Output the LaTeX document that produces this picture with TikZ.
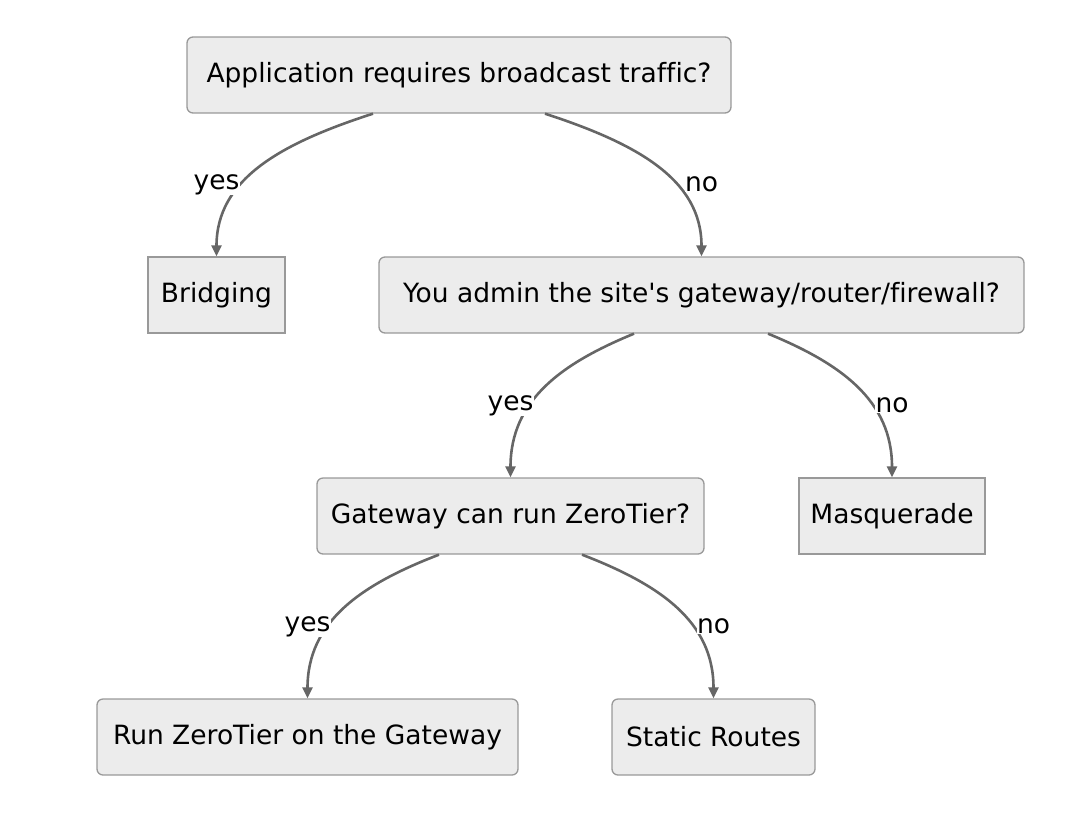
\documentclass[tikz,border=0pt]{standalone}
\usepackage{fontspec}
\setmainfont{DejaVu Sans}[Ligatures={TeXOff,NoCommon}]
\usetikzlibrary{arrows.meta}
\definecolor{boxfill}{HTML}{ECECEC}
\definecolor{boxline}{HTML}{999999}
\definecolor{edgecol}{HTML}{666666}
\tikzset{
  box/.style={draw=boxline, fill=boxfill, line width=1.3pt, minimum height=76pt, inner sep=0pt, font=\fontsize{26.5}{30}\selectfont},
  rbox/.style={box, rounded corners=6pt},
  edge/.style={draw=edgecol, line width=2.6pt, -{Triangle[length=11pt,width=10pt]}},
  lbl/.style={fill=white, inner sep=0.5pt, font=\fontsize{26.5}{30}\selectfont}
}
\begin{document}
\begin{tikzpicture}[x=1pt,y=-1pt]
\useasboundingbox (0,0) rectangle (1073,831);
\node[rbox, minimum width=544pt] (A) at (459,75) {Application requires broadcast traffic?};
\node[box, minimum width=137pt] (Br) at (216.5,295) {Bridging};
\node[rbox, minimum width=645pt] (B) at (701.5,295) {You admin the site's gateway/router/firewall?};
\node[rbox, minimum width=387pt] (C) at (510.5,516) {Gateway can run ZeroTier?};
\node[box, minimum width=186pt] (M) at (892,516) {Masquerade};
\node[rbox, minimum width=421pt] (D) at (307.5,737) {Run ZeroTier on the Gateway};
\node[rbox, minimum width=203pt] (E) at (713.5,737) {Static Routes};

\draw[edge] ([xshift=-86pt]A.south) .. controls +(-93,30) and +(0,-77) .. (Br.north);
\draw[edge] ([xshift=86pt]A.south) .. controls +(92,30) and +(0,-77) .. (B.north);
\draw[edge] ([xshift=-67.5pt]B.south) .. controls +(-73,30) and +(0,-77) .. (C.north);
\draw[edge] ([xshift=66.5pt]B.south) .. controls +(73,30) and +(0,-77) .. (M.north);
\draw[edge] ([xshift=-71.5pt]C.south) .. controls +(-78,30) and +(0,-77) .. (D.north);
\draw[edge] ([xshift=71.5pt]C.south) .. controls +(78,30) and +(0,-77) .. (E.north);

\node[lbl] (l1) at ([yshift=72pt]Br.north) {yes};
\node[lbl] (l2) at ([yshift=72pt]B.north) {no};
\node[lbl] (l3) at ([yshift=72pt]C.north) {yes};
\node[lbl] (l4) at ([yshift=72pt]M.north) {no};
\node[lbl] (l5) at ([yshift=72pt]D.north) {yes};
\node[lbl] (l6) at ([yshift=72pt]E.north) {no};
\end{tikzpicture}
\end{document}
